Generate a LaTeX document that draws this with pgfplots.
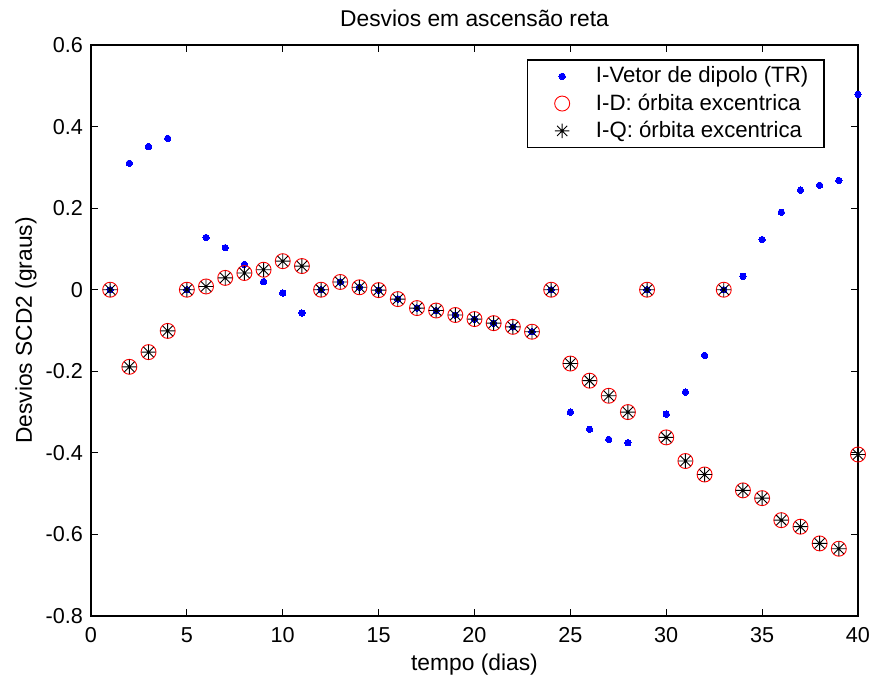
\documentclass[border=0pt]{standalone}
\usepackage{fontspec}
\setmainfont{Liberation Sans}
\usepackage{pgfplots}
\pgfplotsset{compat=1.18}
\usepackage{pgfplotstable}

\pgfdeclareplotmark{mstar}{%
 \pgfpathmoveto{\pgfqpoint{-\pgfplotmarksize}{0pt}}\pgfpathlineto{\pgfqpoint{\pgfplotmarksize}{0pt}}%
 \pgfpathmoveto{\pgfqpoint{0pt}{-\pgfplotmarksize}}\pgfpathlineto{\pgfqpoint{0pt}{\pgfplotmarksize}}%
 \pgfpathmoveto{\pgfqpoint{-0.7071\pgfplotmarksize}{-0.7071\pgfplotmarksize}}\pgfpathlineto{\pgfqpoint{0.7071\pgfplotmarksize}{0.7071\pgfplotmarksize}}%
 \pgfpathmoveto{\pgfqpoint{-0.7071\pgfplotmarksize}{0.7071\pgfplotmarksize}}\pgfpathlineto{\pgfqpoint{0.7071\pgfplotmarksize}{-0.7071\pgfplotmarksize}}%
 \pgfusepathqstroke}

\pgfplotstableread{
x y
1 0
2 0.310
3 0.351
4 0.371
5 0
6 0.128
7 0.103
8 0.062
9 0.020
10 -0.008
11 -0.057
12 0
13 0.019
14 0.006
15 -0.001
16 -0.023
17 -0.045
18 -0.051
19 -0.062
20 -0.072
21 -0.082
22 -0.091
23 -0.103
24 0
25 -0.300
26 -0.342
27 -0.367
28 -0.375
29 0
30 -0.305
31 -0.251
32 -0.161
33 0
34 0.033
35 0.123
36 0.190
37 0.244
38 0.256
39 0.268
40 0.479
}\dipolo

\pgfplotstableread{
x y
1 0
2 -0.189
3 -0.153
4 -0.101
5 0
6 0.008
7 0.029
8 0.041
9 0.049
10 0.070
11 0.058
12 0
13 0.019
14 0.006
15 -0.001
16 -0.023
17 -0.045
18 -0.051
19 -0.062
20 -0.072
21 -0.082
22 -0.091
23 -0.103
24 0
25 -0.181
26 -0.223
27 -0.260
28 -0.300
29 0
30 -0.362
31 -0.420
32 -0.453
33 0
34 -0.492
35 -0.511
36 -0.565
37 -0.581
38 -0.622
39 -0.635
40 -0.404
}\orbD

\pgfplotstableread{
x y
1 0
2 -0.189
3 -0.153
4 -0.101
5 0
6 0.008
7 0.029
8 0.041
9 0.049
10 0.070
11 0.058
12 0
13 0.019
14 0.006
15 -0.001
16 -0.023
17 -0.045
18 -0.051
19 -0.062
20 -0.072
21 -0.082
22 -0.091
23 -0.103
24 0
25 -0.181
26 -0.223
27 -0.260
28 -0.300
29 0
30 -0.362
31 -0.420
32 -0.453
33 0
34 -0.492
35 -0.511
36 -0.565
37 -0.581
38 -0.622
39 -0.635
40 -0.404
}\orbQ

\begin{document}
\begin{tikzpicture}
\def\fs{\fontsize{10.8pt}{13pt}\selectfont}
\def\fl{\fontsize{11.4pt}{13.6pt}\selectfont}
\def\fg{\fontsize{11.1pt}{13.3pt}\selectfont}
\begin{axis}[
  name=ax,
  scale only axis,
  width=383.5pt, height=285.5pt,
  xmin=0, xmax=40, ymin=-0.8, ymax=0.6,
  axis line style={line width=0.9pt},
  tick style={line width=0.6pt, black},
  major tick length=3.5pt,
  tick align=inside,
  xtick={0,5,...,40},
  xticklabels={0,5,10,15,20,25,30,35,40},
  ytick={-0.8,-0.6,-0.4,-0.2,0,0.2,0.4,0.6},
  yticklabels={-0.8,-0.6,-0.4,-0.2,0,0.2,0.4,0.6},
  ticklabel style={font=\fs},
  xticklabel style={yshift=-2.2pt},
  yticklabel style={xshift=-0.5pt},
  every axis title shift=0pt,
  title={Desvios em ascensão reta},
  title style={font=\fl, at={([yshift=9pt]axis description cs:0.5,1)}, anchor=base},
  xlabel={tempo (dias)},
  xlabel style={font=\fl, at={([yshift=-27pt]axis description cs:0.5,0)}, anchor=base},
  ylabel={Desvios SCD2 (graus)},
  ylabel style={font=\fl, at={([xshift=-29.5pt]axis description cs:0,0.5)}, anchor=base},
  legend style={at={(0.957,0.9755)}, anchor=north east, draw=black, line width=0.8pt,
    font=\fg, cells={anchor=west}, inner xsep=6pt, inner ysep=1.5pt, row sep=0pt},
  legend image code/.code={\path (-11pt,0pt) (14.5pt,0pt); \draw[#1] plot coordinates {(0pt,0pt)};},
]
\addplot[only marks, mark=*, mark size=1.6pt, blue, mark options={fill=blue, draw=blue, line width=0pt}] table[x=x,y=y]{\dipolo};
\addlegendentry{I-Vetor de dipolo (TR)}
\addplot[only marks, mark=o, mark size=3.75pt, red, mark options={line width=0.45pt}] table[x=x,y=y]{\orbD};
\addlegendentry{I-D: órbita excentrica}
\addplot[only marks, mark=mstar, mark size=3.6pt, black, mark options={line width=0.45pt}] table[x=x,y=y]{\orbQ};
\addlegendentry{I-Q: órbita excentrica}
\end{axis}
\pgfresetboundingbox
\path ([xshift=-45.5pt,yshift=-31.5pt]ax.south west) rectangle ([xshift=7.5pt,yshift=22.5pt]ax.north east);
\end{tikzpicture}
\end{document}
